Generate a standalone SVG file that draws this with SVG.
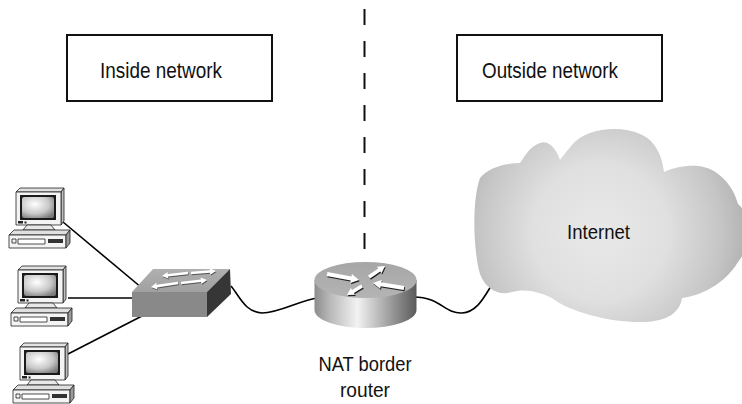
<svg xmlns="http://www.w3.org/2000/svg" xmlns:xlink="http://www.w3.org/1999/xlink" width="742" height="404" viewBox="0 0 742 404">
  <style>
    .label { font-family: "Liberation Sans Narrow", "Liberation Sans", Arial, sans-serif; fill: #111; }
    .box { fill: #fff; stroke: #111; stroke-width: 2; }
    .wire { fill: none; stroke: #000; stroke-width: 1.6; }
    .edge { stroke: #222; stroke-width: 0.8; stroke-linejoin: round; }
  </style>
  <defs>
    <radialGradient id="screenGrad" cx="0.4" cy="0.35" r="0.75">
      <stop offset="0" stop-color="#ffffff"/>
      <stop offset="0.6" stop-color="#c8c8c8"/>
      <stop offset="1" stop-color="#7a7a7a"/>
    </radialGradient>
    <radialGradient id="cloudGrad" cx="600" cy="232" r="150" gradientUnits="userSpaceOnUse">
      <stop offset="0" stop-color="#e8e8e8"/>
      <stop offset="0.45" stop-color="#e0e0e0"/>
      <stop offset="0.8" stop-color="#c6c6c6"/>
      <stop offset="1" stop-color="#b0b0b0"/>
    </radialGradient>
    <linearGradient id="routerSide" x1="0" y1="0" x2="1" y2="0">
      <stop offset="0" stop-color="#8c8c8c"/>
      <stop offset="0.15" stop-color="#b8b8b8"/>
      <stop offset="0.42" stop-color="#f2f2f2"/>
      <stop offset="0.7" stop-color="#a8a8a8"/>
      <stop offset="1" stop-color="#5a5a5a"/>
    </linearGradient>
    <linearGradient id="routerTop" x1="0" y1="0" x2="0" y2="1">
      <stop offset="0" stop-color="#a6a6a6"/>
      <stop offset="1" stop-color="#b4b4b4"/>
    </linearGradient>
    <linearGradient id="switchTop" x1="0" y1="0" x2="0" y2="1">
      <stop offset="0" stop-color="#b0b0b0"/>
      <stop offset="1" stop-color="#a0a0a0"/>
    </linearGradient>

    <!-- desktop PC: monitor on a flat system unit -->
    <g id="pc">
      <polygon class="edge" points="16,192 20,188 64,188 61,192" fill="#e2e2e2"/>
      <polygon class="edge" points="61,192 64,188 64,221 61,225" fill="#bdbdbd"/>
      <rect class="edge" x="16" y="192" width="45" height="33" fill="#f4f4f4"/>
      <rect x="20" y="195" width="36" height="25" fill="#1a1a1a"/>
      <rect x="22" y="197" width="32" height="21" rx="2" fill="url(#screenGrad)"/>
      <rect x="18" y="221" width="5" height="2.5" fill="#222"/>
      <rect x="24.5" y="221.5" width="2" height="2" fill="#222"/>
      <polygon class="edge" points="27,225 51,225 55,230 23,230" fill="#e8e8e8"/>
      <polygon class="edge" points="9,235 14,230 70,230 66,235" fill="#e0e0e0"/>
      <rect class="edge" x="9" y="235" width="57" height="13" fill="#f4f4f4"/>
      <polygon class="edge" points="66,235 70,230 70,243 66,248" fill="#9a9a9a"/>
      <rect class="edge" x="12" y="239" width="4" height="4" fill="none"/>
      <rect class="edge" x="18" y="239" width="27" height="5" fill="#fff"/>
      <rect x="48" y="239" width="15" height="4" fill="#333"/>
    </g>

    <!-- arrow glyphs on the router lid -->
    <g id="routerArrows">
      <polygon points="327.4,272 351.5,276.5 351.9,274.1 359,280 350.3,282.9 350.7,280.5 326.6,276"/>
      <polygon points="404.3,286 381.2,282.3 381.6,279.9 373,283 380.2,288.7 380.6,286.3 403.7,290"/>
      <polygon points="368,275.5 378.2,268.5 376.9,266.7 385,266 381.5,273.3 380.2,271.5 370,278.5"/>
      <polygon points="361.1,284.5 352.1,289.9 350.9,288 347,295 355.1,294.8 353.9,292.9 362.9,287.5"/>
    </g>

    <!-- arrow glyphs on the switch lid -->
    <g id="switchArrows">
      <polygon points="187.85,271.71 167.8,274 167.6,272 162,276 168.3,278.6 168.1,276.6 188.15,274.29"/>
      <polygon points="190.9,271.7 209.9,270.2 209.7,268.2 216,271 210.3,274.8 210.1,272.8 191.1,274.3"/>
      <polygon points="177.8,281.7 156.7,284.8 156.4,282.8 151,287 157.4,289.4 157.1,287.4 178.2,284.3"/>
      <polygon points="180.85,281.7 200.85,279.4 200.6,277.4 207,280 201.4,284 201.15,282 181.15,284.3"/>
    </g>
  </defs>

  <rect width="742" height="404" fill="#fff"/>

  <!-- zone labels -->
  <g id="inside-network">
    <rect class="box" x="67" y="35" width="205" height="66"/>
    <text class="label" x="100" y="78" font-size="22" textLength="122" lengthAdjust="spacingAndGlyphs">Inside network</text>
  </g>
  <g id="outside-network">
    <rect class="box" x="457" y="35" width="205" height="66"/>
    <text class="label" x="482" y="78" font-size="22" textLength="136" lengthAdjust="spacingAndGlyphs">Outside network</text>
  </g>

  <!-- boundary between inside and outside -->
  <g id="boundary">
    <line x1="364.5" y1="9" x2="364.5" y2="250" stroke="#111" stroke-width="2" stroke-dasharray="16 16"/>
  </g>

  <!-- links -->
  <g id="connectors">
    <line class="wire" x1="63" y1="222" x2="142" y2="288"/>
    <line class="wire" x1="68" y1="298" x2="134" y2="298"/>
    <line class="wire" x1="68" y1="354" x2="142" y2="316"/>
    <path class="wire" d="M231,286 C240,297 245,312 262,313 C280,313 300,300 318,298"/>
    <path class="wire" d="M414,297 C440,297 445,314 462,313 C478,312 485,295 493,283"/>
  </g>

  <g id="pc1"><use xlink:href="#pc"/></g>
  <g id="pc2"><use xlink:href="#pc" transform="translate(2,78)"/></g>
  <g id="pc3"><use xlink:href="#pc" transform="translate(4,155)"/></g>

  <!-- LAN switch -->
  <g id="switch">
    <polygon points="132,292 153,269 230,269 207,292" fill="url(#switchTop)"/>
    <rect x="132" y="292" width="75" height="25" fill="#898989"/>
    <polygon points="207,292 230,269 231,294 207,317" fill="#363636"/>
    <use xlink:href="#switchArrows" transform="translate(0.6,1)" fill="#555"/>
    <use xlink:href="#switchArrows" fill="#fff"/>
  </g>

  <!-- NAT border router -->
  <g id="router">
    <path d="M314.5,280 L314.5,310 A51,18 0 0 0 416.5,310 L416.5,280 Z" fill="url(#routerSide)"/>
    <ellipse cx="365.5" cy="280" rx="51" ry="18" fill="url(#routerTop)"/>
    <use xlink:href="#routerArrows" transform="translate(0.8,1.3)" fill="#222"/>
    <use xlink:href="#routerArrows" fill="#fff"/>
    <text class="label" x="365" y="371" font-size="19.5" text-anchor="middle" textLength="93" lengthAdjust="spacingAndGlyphs">NAT border</text>
    <text class="label" x="365" y="397" font-size="19.5" text-anchor="middle" textLength="50" lengthAdjust="spacingAndGlyphs">router</text>
  </g>

  <!-- public network cloud -->
  <g id="internet">
    <path fill="url(#cloudGrad)" d="M480,178 C472,200 473,250 480,274 C486,290 500,296 512,292 C525,288 540,292 552,298 C570,312 610,323 645,322 C668,321 680,312 682,298 C700,296 725,284 738,262 C752,245 752,215 738,204 C733,185 718,168 698,166 C686,165 672,168 664,172 C662,155 655,140 640,134 C620,125 585,128 572,145 C566,152 563,156 560,160 C556,148 548,140 540,143 C530,146 525,156 520,163 C505,163 488,168 480,178 Z"/>
    <text class="label" x="567" y="239" font-size="20" textLength="63" lengthAdjust="spacingAndGlyphs">Internet</text>
  </g>
</svg>
